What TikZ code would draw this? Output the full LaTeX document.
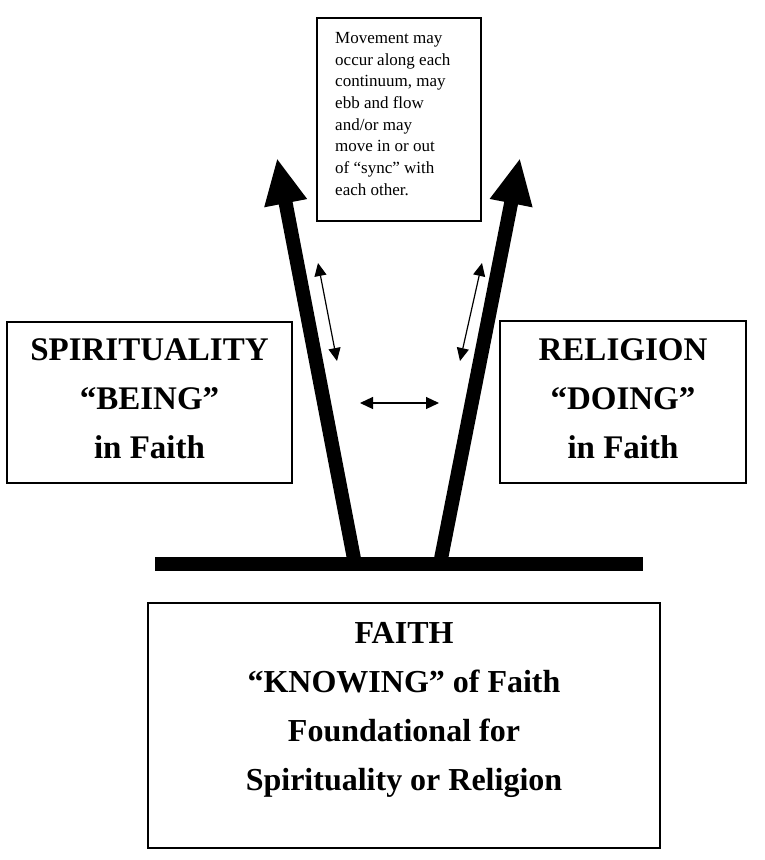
\documentclass[tikz,border=0pt]{standalone}
\usepackage{fontspec}
\setmainfont{Liberation Serif}
\usetikzlibrary{arrows.meta}
\begin{document}
\begin{tikzpicture}[x=1pt,y=-1pt,
  box/.style={draw=black, line width=1.5pt, fill=white, inner sep=0pt},
  bigtxt/.style={font=\bfseries\fontsize{33}{49}\selectfont, align=center, inner sep=0pt, anchor=north},
  faithtxtstyle/.style={font=\bfseries\fontsize{32}{49}\selectfont, align=center, inner sep=0pt, anchor=north},
  smalltxt/.style={font=\fontsize{17}{21.7}\selectfont, align=left, inner sep=0pt, anchor=north west},
  bigarrow/.style={line width=14pt, -{Triangle[length=46pt,width=40pt]}},
  smallarrow/.style={line width=1.2pt, {Triangle[length=13pt,width=12pt]}-{Triangle[length=13pt,width=12pt]}},
  barstyle/.style={line width=14pt}]
\useasboundingbox (0,0) rectangle (764,860);

% boxes
\node[box, minimum width=164pt, minimum height=203pt] (note) at (399,119.5) {};
\node[box, minimum width=285pt, minimum height=161pt] (spir) at (149.5,402.5) {};
\node[box, minimum width=246pt, minimum height=162pt] (rel) at (623,402) {};
\node[box, minimum width=512pt, minimum height=245pt] (faith) at (404,725.5) {};

% texts
\node[smalltxt] (notetxt) at (335,32) {Movement may\\occur along each\\continuum, may\\ebb and flow\\and/or may\\move in or out\\of “sync” with\\each other.};
\node[bigtxt] (spirtxt) at (149.5,338) {SPIRITUALITY\\“BEING”\\in Faith};
\node[bigtxt] (reltxt) at (623,338) {RELIGION\\“DOING”\\in Faith};
\node[faithtxtstyle] (faithtxt) at (404,622) {FAITH\\“KNOWING” of Faith\\Foundational for\\Spirituality or Religion};

% bar and thick arrows
\coordinate (barL) at (155,564);
\coordinate (barR) at (643,564);
\coordinate (lbase) at (355,564);
\coordinate (ltip) at (277,158);
\coordinate (rbase) at (440,564);
\coordinate (rtip) at (520,158);
\draw[barstyle] (barL) -- (barR);
\draw[bigarrow] (lbase) -- (ltip);
\draw[bigarrow] (rbase) -- (rtip);

% small double arrows
\coordinate (la1) at (318,263);
\coordinate (la2) at (337,361);
\coordinate (ra1) at (482,263);
\coordinate (ra2) at (460,361);
\coordinate (ha1) at (360,403);
\coordinate (ha2) at (439,403);
\draw[smallarrow] (la1) -- (la2);
\draw[smallarrow] (ra1) -- (ra2);
\draw[smallarrow] (ha1) -- (ha2);
\end{tikzpicture}
\end{document}
